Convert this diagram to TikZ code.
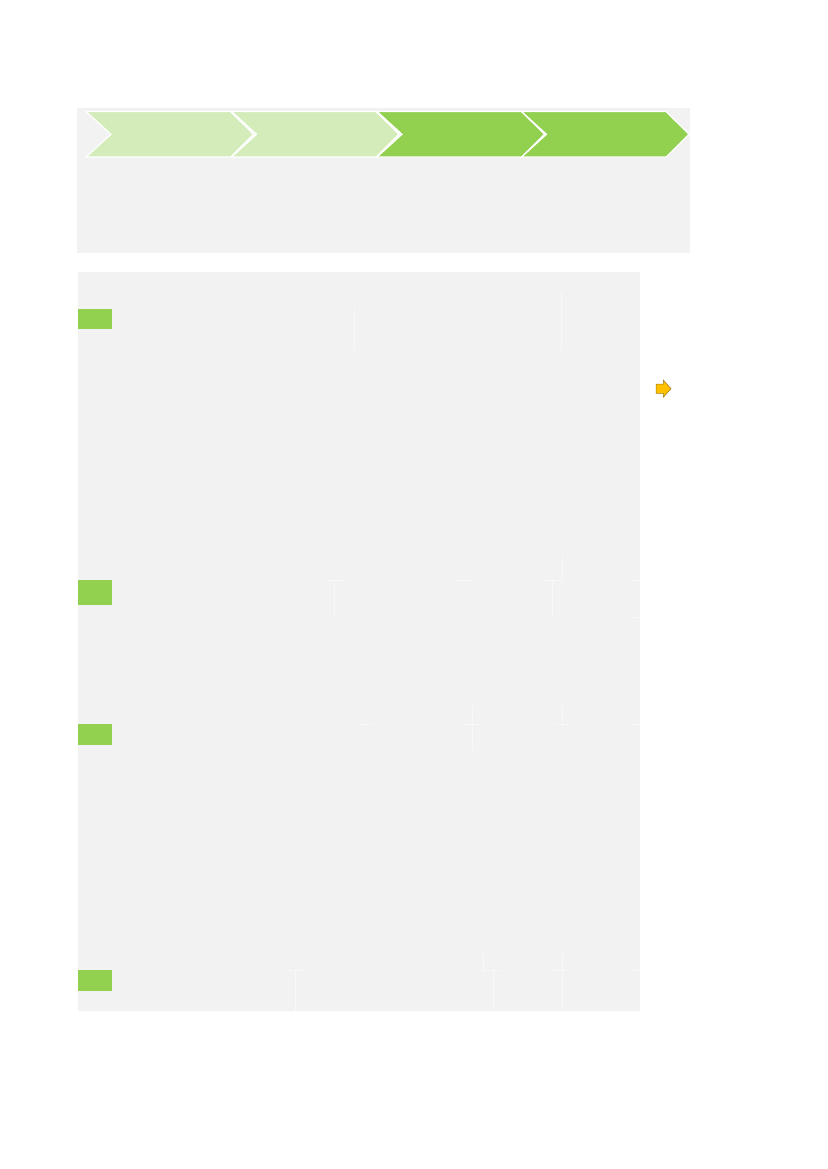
\documentclass[tikz,border=0pt]{standalone}
\usepackage{xcolor}
\definecolor{panelgray}{HTML}{F2F2F2}
\definecolor{lightgreen}{HTML}{D3ECB9}
\definecolor{darkgreen}{HTML}{92D050}
\definecolor{arroworange}{HTML}{FFC000}
\definecolor{arrowedge}{HTML}{9C7A1E}
\definecolor{faintline}{HTML}{F8F8F8}
\tikzset{
  panel/.style={fill=panelgray, draw=none},
  chevlight/.style={fill=lightgreen, draw=white, line width=1.2pt, line join=miter},
  chevdark/.style={fill=darkgreen, draw=white, line width=1.2pt, line join=miter},
  marker/.style={fill=darkgreen, draw=none},
  faint/.style={draw=faintline, line width=0.4pt},
  pointer/.style={fill=arroworange, draw=arrowedge, line width=0.5pt, line join=miter}
}
\begin{document}
\begin{tikzpicture}[x=1pt,y=-1pt]
\useasboundingbox (0,0) rectangle (827,1169);
\fill[white] (0,0) rectangle (827,1169);
% top panel
\path[panel] (77,108) rectangle (690,253);
% chevrons
\foreach \xo/\sty in {86/chevlight, 231.5/chevlight, 377/chevdark, 521.5/chevdark}{
  \draw[\sty] (\xo,111.5) -- ++(144.5,0) -- ++(23,22.8) -- ++(-23,22.8) -- ++(-144.5,0) -- ++(25,-22.8) -- cycle;
}
% lower panel
\path[panel] (78,272) rectangle (640,1011);
% green markers
\node[marker, inner sep=0pt, minimum width=34pt, minimum height=20pt, anchor=north west] (m1) at (78,309) {};
\node[marker, inner sep=0pt, minimum width=34pt, minimum height=24.5pt, anchor=north west] (m2) at (78,580) {};
\node[marker, inner sep=0pt, minimum width=34pt, minimum height=20.5pt, anchor=north west] (m3) at (78,724) {};
\node[marker, inner sep=0pt, minimum width=34pt, minimum height=20.5pt, anchor=north west] (m4) at (78,970) {};
% faint table remnants
\draw[faint] (354.5,308) -- (354.5,350);
\draw[faint] (561,292) -- (561,350);
\draw[faint] (325.7,580) -- (343,580);
\draw[faint] (334,580) -- (334,617);
\draw[faint] (453,580) -- (472,580);
\draw[faint] (561.7,556) -- (561.7,580);
\draw[faint] (543,580) -- (562,580);
\draw[faint] (551.7,580) -- (551.7,617);
\draw[faint] (631.7,580) -- (640,580);
\draw[faint] (631.7,617) -- (640,617);
\draw[faint] (356.7,724) -- (372.7,724);
\draw[faint] (472,706) -- (472,750);
\draw[faint] (464,724) -- (480,724);
\draw[faint] (561.7,706) -- (561.7,724);
\draw[faint] (555,724) -- (570,724);
\draw[faint] (631.7,724) -- (640,724);
\draw[faint] (295.5,970) -- (295.5,1011);
\draw[faint] (286.7,970) -- (303,970);
\draw[faint] (483,953) -- (483,970);
\draw[faint] (493,970) -- (493,1011);
\draw[faint] (483,970) -- (499.6,970);
\draw[faint] (562,953) -- (562,1011);
\draw[faint] (553,970) -- (570,970);
\draw[faint] (633,970) -- (640,970);
% small orange arrow
\draw[pointer] (656,384) -- (663.3,384) -- (663.3,380) -- (671,388.7) -- (663.3,397.3) -- (663.3,393.3) -- (656,393.3) -- cycle;
\end{tikzpicture}
\end{document}
